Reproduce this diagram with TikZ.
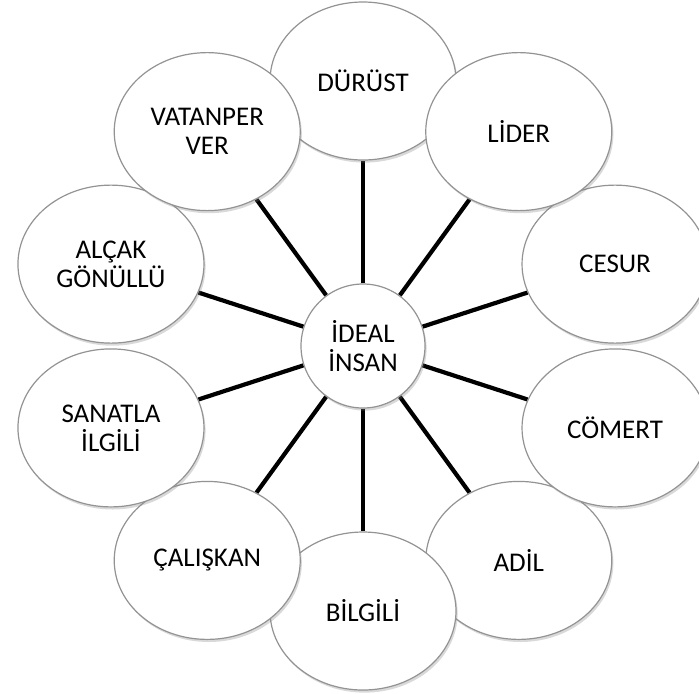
\documentclass[tikz,border=0pt]{standalone}
\usepackage{fontspec}
\setmainfont{Carlito}
\usetikzlibrary{shapes.geometric,shadows,backgrounds}
\tikzset{
  petal/.style={ellipse, draw=gray!85, line width=0.6pt, fill=white,
    minimum width=93pt, minimum height=79pt, inner sep=0pt, align=center,
    font=\fontsize{13.5}{14.5}\selectfont,
    drop shadow={opacity=0.3, shadow xshift=0.8pt, shadow yshift=-1.3pt}},
  hub/.style={petal, circle, minimum size=62pt},
  spoke/.style={line width=2.1pt, black}
}
\begin{document}
\begin{tikzpicture}[x=0.5pt,y=0.5pt]
  \useasboundingbox (-363,-347) rectangle (336,346);
  % outer ellipses, in stacking order
  \foreach \ang/\nm/\txt in {90/durust/DÜRÜST, -54/adil/ADİL, -90/bilgili/BİLGİLİ,
      -126/caliskan/ÇALIŞKAN, 198/sanatla/SANATLA\\İLGİLİ, 162/alcak/ALÇAK\\GÖNÜLLÜ,
      126/vatan/VATANPER\\VER, -18/comert/CÖMERT, 18/cesur/CESUR, 54/lider/LİDER}
    \node[petal] (\nm) at (\ang:265) {\txt};
  \node[hub] (ideal) at (0,0) {İDEAL\\İNSAN};
  \begin{scope}[on background layer]
    \foreach \nm in {durust,lider,cesur,comert,adil,bilgili,caliskan,sanatla,alcak,vatan}
      \draw[spoke] (ideal) -- (\nm);
  \end{scope}
\end{tikzpicture}
\end{document}
